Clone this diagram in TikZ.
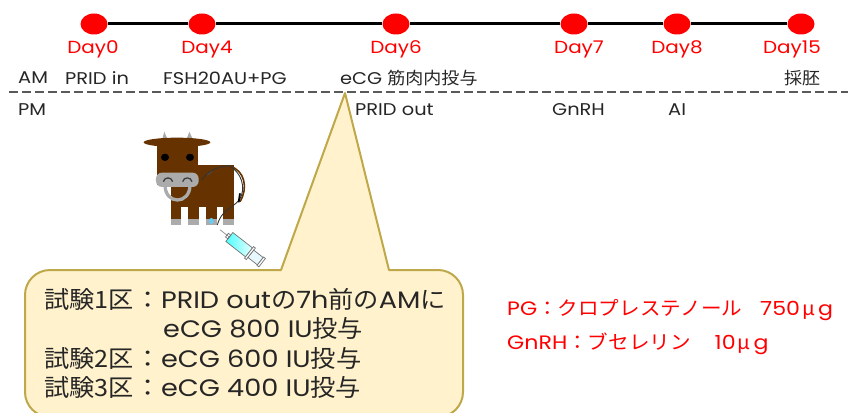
\documentclass[tikz,border=0pt]{standalone}
\usepackage{fontspec}
\usetikzlibrary{shapes.geometric}
\setmainfont{Poppins}[FakeStretch=1.14]
\newfontfamily\jafont{Noto Sans CJK JP}[FakeStretch=1.06]
\newcommand{\ja}[1]{{\jafont #1}}
\definecolor{cowbrown}{HTML}{663300}
\definecolor{hoof}{HTML}{ABABAB}
\definecolor{calloutfill}{HTML}{FFF2CC}
\definecolor{calloutline}{HTML}{BFA84A}
\definecolor{inktext}{HTML}{262626}
\tikzset{
  daydot/.style={ellipse,fill=red,minimum width=27pt,minimum height=21pt,inner sep=0pt},
  daylabel/.style={text=red,font=\fontsize{17.5}{20}\selectfont,inner sep=0pt,anchor=center},
  rowtext/.style={text=inktext,font=\fontsize{17}{18}\selectfont,inner sep=0pt,anchor=west},
  calltext/.style={text=inktext,font=\fontsize{23.8}{26}\selectfont,inner sep=0pt,anchor=west},
  notetext/.style={text=red,font=\fontsize{19.4}{21}\selectfont,inner sep=0pt,anchor=west},
}
\begin{document}
\begin{tikzpicture}[x=1pt,y=-1pt]
\useasboundingbox (0,0) rectangle (848,412);
\clip (0,0) rectangle (848,412);

% Timeline
\node[daydot] (d0) at (94,24) {};
\node[daydot] (d4) at (202,24) {};
\node[daydot] (d6) at (396,24) {};
\node[daydot] (d7) at (574,24) {};
\node[daydot] (d8) at (677,24) {};
\node[daydot] (d15) at (801,24) {};
\draw[line width=3pt,black] (d0) -- (d4);
\draw[line width=3pt,black] (d4) -- (d6);
\draw[line width=3pt,black] (d6) -- (d7);
\draw[line width=3pt,black] (d7) -- (d8);
\draw[line width=3pt,black] (d8) -- (d15);

\node[daylabel] (l0) at (93,49) {Day0};
\node[daylabel] (l4) at (207,49) {Day4};
\node[daylabel] (l6) at (396,49) {Day6};
\node[daylabel] (l7) at (579,49) {Day7};
\node[daylabel] (l8) at (677,49) {Day8};
\node[daylabel] (l15) at (792,49) {Day15};

% AM / PM schedule rows
\coordinate (splitL) at (9,92);
\coordinate (splitR) at (848,92);
\draw[line width=1.2pt,black!65,dash pattern=on 9pt off 4pt] (splitL) -- (splitR);
\node[rowtext] (am) at (18,78) {AM};
\node[rowtext] (pridin) at (65,78) {PRID in};
\node[rowtext] (fsh) at (163,78) {FSH20AU+PG};
\node[rowtext] (ecg) at (340,78) {eCG \ja{筋肉内投与}};
\node[rowtext] (embryo) at (784,78) {\ja{採胚}};
\node[rowtext] (pm) at (18,110) {PM};
\node[rowtext] (pridout) at (355,110) {PRID out};
\node[rowtext] (gnrh) at (552,110) {GnRH};
\node[rowtext] (ai) at (668,110) {AI};

% Cow and syringe, in a local frame of one third of a unit
\begin{scope}[shift={(130,125)},x=0.3333pt,y=-0.3333pt]
  \fill[hoof] (97,42) -- (103,20) -- (112,42) -- cycle;
  \fill[hoof] (170,42) -- (178,20) -- (188,42) -- cycle;
  \fill[cowbrown] (141,52) ellipse (100 and 14);
  \fill[cowbrown] (80,50) rectangle (205,180);
  \fill[cowbrown] (205,120) rectangle (312,245);
  \fill[cowbrown] (122,170) rectangle (312,245);
  \foreach \lx in {122,175,228,280}{
    \fill[cowbrown] (\lx,240) rectangle ++(32,42);
    \fill[hoof] (\lx,282) rectangle ++(32,19);
  }
  \fill[black] (105,97) ellipse (12 and 11);
  \fill[black] (180,97) ellipse (12 and 11);
  \draw[hoof,line width=3.3pt] (105,180) .. controls (105,240) and (180,240) .. (180,180);
  \fill[hoof,rounded corners=6pt] (78,143) rectangle (206,186);
  \draw[black!75,line width=1.3pt] (100,170) .. controls (103,155) and (125,155) .. (128,170);
  \draw[black!75,line width=1.3pt] (158,170) .. controls (161,155) and (183,155) .. (186,170);
  % tail and catheter
  \draw[white,line width=3pt] (318,150) .. controls (335,175) and (335,205) .. (318,240);
  \draw[cowbrown,line width=1.6pt] (298,123) .. controls (345,135) and (355,190) .. (330,230);
  \draw[black!80,line width=0.9pt] (215,165) .. controls (240,130) and (270,125) .. (295,122)
     .. controls (335,140) and (350,190) .. (328,225) .. controls (300,255) and (275,255) .. (262,300);
  \draw[black,line width=1.8pt] (330,205) -- (326,232);
  \draw[black!70,line width=1pt] (232,150) -- (246,140);
  \fill[cyan!60] (244,288) ellipse (7 and 9);
  % syringe
  \begin{scope}[shift={(298,336)},rotate=-38]
    \draw[black!50,line width=0.6pt] (-35,0) -- (0,0);
    \shade[left color=cyan!70,right color=cyan!8,draw=black!55,line width=0.7pt] (0,-17) rectangle (75,17);
    \draw[black!55,fill=white,line width=0.7pt] (75,-22) rectangle (82,22);
    \draw[black!55,fill=cyan!10,line width=0.7pt] (82,-14) rectangle (118,14);
    \draw[black!55,fill=white,line width=0.7pt] (118,-16) rectangle (125,16);
    \draw[black!55,line width=0.7pt] (-9,-7) rectangle (0,7);
  \end{scope}
\end{scope}

% Callout with its pointer up to the dashed line
\coordinate (tip) at (345,93);
\draw[calloutline,fill=calloutfill,line width=2pt,line join=round]
  (tip) -- (389,270) -- (438,270) arc[start angle=90,end angle=0,radius=25pt]
  -- (463,392) arc[start angle=0,end angle=-90,radius=25pt]
  -- (50,417) arc[start angle=270,end angle=180,radius=25pt]
  -- (25,295) arc[start angle=180,end angle=90,radius=25pt]
  -- (281,270) -- cycle;

\node[calltext] (t1) at (44,299) {\ja{試験1区}\hspace{2pt}\ja{：}PRID out\ja{の}7h\ja{前の}AM\ja{に}};
\node[calltext] (t1b) at (163,328) {eCG 800 IU\ja{投与}};
\node[calltext] (t2) at (44,358) {\ja{試験2区}\hspace{2pt}\ja{：}eCG 600 IU\ja{投与}};
\node[calltext] (t3) at (44,387) {\ja{試験3区}\hspace{2pt}\ja{：}eCG 400 IU\ja{投与}};

% Drug doses
\node[notetext] (pg) at (507,310) {PG\ja{：クロプレステノール}\hspace{18pt}750\hspace{2pt}\ja{μ}\hspace{3pt}g};
\node[notetext] (gn) at (507,344) {GnRH\ja{：ブセレリン}\hspace{24pt}10\hspace{2pt}\ja{μ}\hspace{3pt}g};
\end{tikzpicture}
\end{document}
